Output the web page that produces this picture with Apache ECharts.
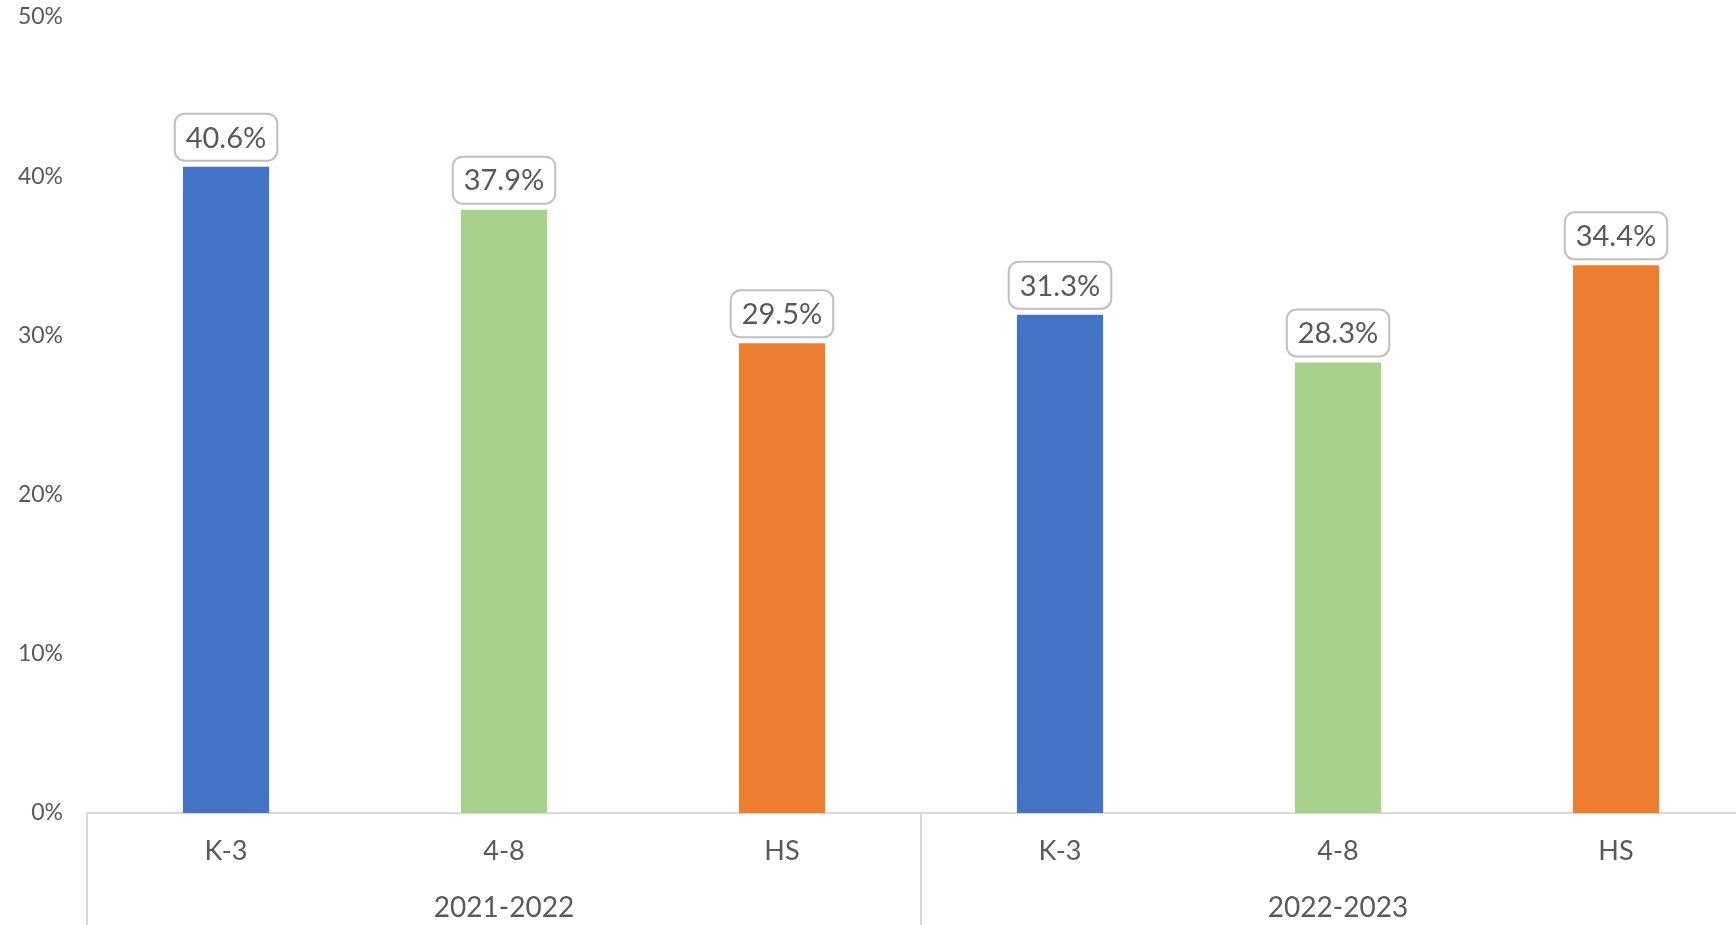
<!DOCTYPE html>
<html>
<head>
<meta charset="utf-8">
<script src="https://cdn.jsdelivr.net/npm/echarts@6/dist/echarts.min.js"></script>
<style>
  html, body { margin: 0; padding: 0; background: #fff; }
  #main { width: 1736px; height: 925px; }
</style>
</head>
<body>
<div id="main"></div>
<script type="text/javascript">
// grade bands within each school year
var grades = ['K-3', '4-8', 'HS', 'K-3', '4-8', 'HS'];
var years = ['2021-2022', '2022-2023'];
var rates = [40.6, 37.9, 29.5, 31.3, 28.3, 34.4];
var gradeColors = ['#4472C4', '#A9D18E', '#ED7D31', '#4472C4', '#A9D18E', '#ED7D31'];

var chart = echarts.init(document.getElementById('main'));

var font = 'Lato, "Open Sans", sans-serif';
var textColor = '#595959';
var lineColor = '#d9d9d9';

var option = {
  animation: false,
  // plot runs past the right edge of the canvas, as in the original
  grid: { left: 87, width: 1668, top: 17, bottom: 112, outerBoundsMode: 'none' },
  xAxis: [{
    type: 'category',
    data: grades,
    position: 'bottom',
    axisLine: { show: true, lineStyle: { color: lineColor, width: 2 } },
    axisTick: { show: false },
    axisLabel: { color: textColor, fontSize: 27, fontFamily: font, margin: 25 }
  }, {
    type: 'category',
    data: years,
    position: 'bottom',
    axisLine: { show: false },
    axisTick: { show: true, length: 115, lineStyle: { color: lineColor, width: 2 } },
    axisLabel: { color: textColor, fontSize: 28, fontFamily: font, margin: 81 }
  }],
  yAxis: {
    type: 'value',
    min: 0,
    max: 50,
    interval: 10,
    splitLine: { show: false },
    axisLine: { show: false },
    axisTick: { show: false },
    axisLabel: {
      color: textColor, fontSize: 23, fontFamily: font, margin: 24,
      formatter: '{value}%'
    }
  },
  series: [{
    type: 'bar',
    xAxisIndex: 0,
    barWidth: '31%',
    data: rates.map(function (v, i) {
      return { value: v, itemStyle: { color: gradeColors[i] } };
    }),
    label: {
      show: true,
      position: 'top',
      distance: 7,
      formatter: function (p) { return p.value.toFixed(1) + '%'; },
      color: textColor,
      fontSize: 29,
      fontFamily: font,
      backgroundColor: '#fff',
      borderColor: '#bfbfbf',
      borderWidth: 2,
      borderRadius: 9,
      padding: [9, 10, 7, 10]
    }
  }]
};

chart.setOption(option);
</script>
</body>
</html>
